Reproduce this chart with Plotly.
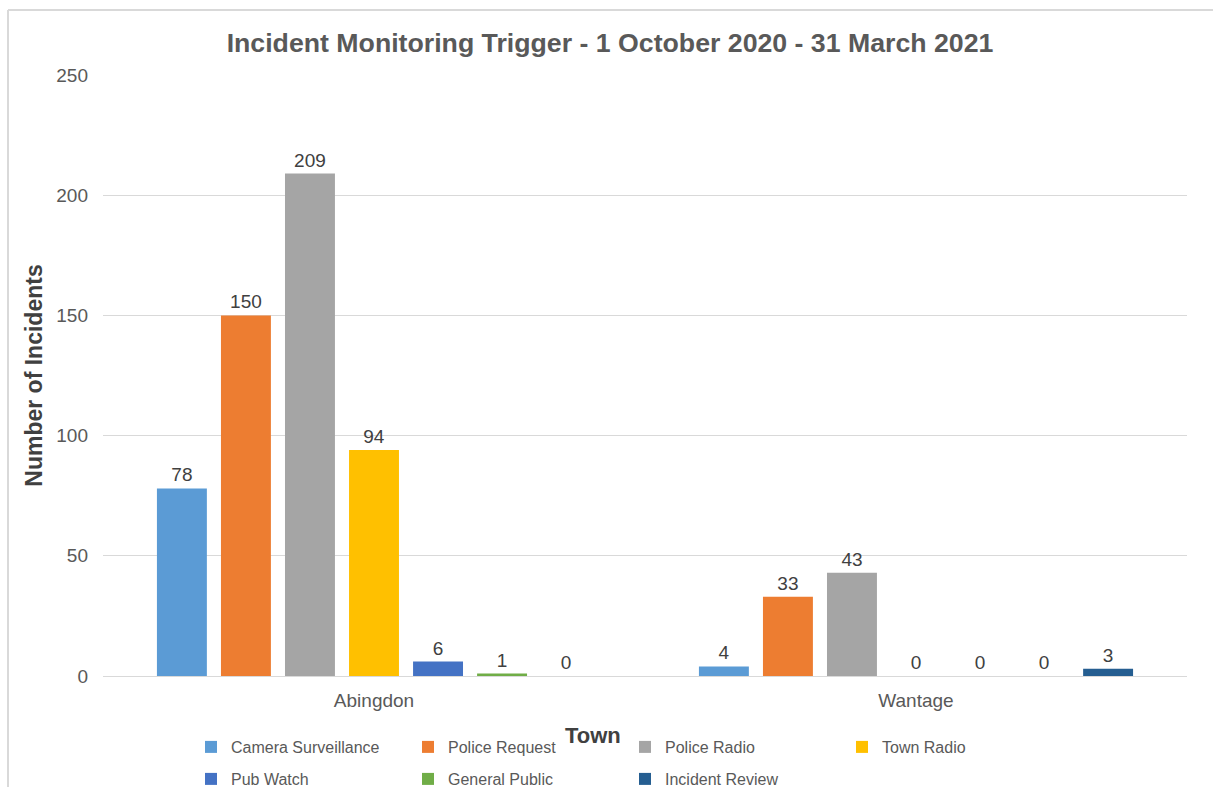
import plotly.graph_objects as go

# Incident counts per trigger source, by town
towns = ["Abingdon", "Wantage"]
sources = ["Camera Surveillance", "Police Request", "Police Radio", "Town Radio",
           "Pub Watch", "General Public", "Incident Review"]
camera_surveillance = [78, 4]
police_request = [150, 33]
police_radio = [209, 43]
town_radio = [94, 0]
pub_watch = [6, 0]
general_public = [1, 0]
incident_review = [0, 3]

series = [camera_surveillance, police_request, police_radio, town_radio,
          pub_watch, general_public, incident_review]
colors = ["#5B9BD5", "#ED7D31", "#A5A5A5", "#FFC000", "#4472C4", "#70AD47", "#255E91"]
legend_rows = ["legend", "legend", "legend", "legend", "legend2", "legend2", "legend2"]

W, H = 1213, 787
ML, MR = 103, 26
PLOT_TOP, PLOT_BOTTOM = 75, 676
pw = W - ML - MR


def fx(p):
    """Pixel column -> paper x fraction."""
    return (p - ML) / pw


def fy(p):
    """Pixel row -> paper y fraction (margins are zero vertically)."""
    return (H - p) / H


fig = go.Figure()
for name, vals, col, lg in zip(sources, series, colors, legend_rows):
    fig.add_trace(go.Bar(
        x=towns, y=vals, name=name, legend=lg,
        marker=dict(color=col, line=dict(width=0)),
        text=[str(v) for v in vals], textposition="outside",
        textfont=dict(family="Arial", size=19, color="#404040"),
        cliponaxis=False,
    ))

legend_common = dict(
    orientation="h", xanchor="left", yanchor="middle",
    entrywidth=172, entrywidthmode="pixels", traceorder="normal",
    itemwidth=30, font=dict(family="Arial", size=16, color="#595959"),
    bgcolor="rgba(0,0,0,0)",
)

fig.update_layout(
    width=W, height=H,
    margin=dict(l=ML, r=MR, t=0, b=0, autoexpand=False),
    paper_bgcolor="white", plot_bgcolor="white",
    barmode="group", bargap=0.173, bargroupgap=0.22,
    font=dict(family="Arial", color="#595959"),
    title=dict(text="<b>Incident Monitoring Trigger - 1 October 2020 - 31 March 2021</b>",
               x=610 / W, xref="container", xanchor="center", y=1 - 43 / H, yanchor="middle",
               font=dict(family="Arial", size=26.7, color="#595959")),
    yaxis=dict(domain=[fy(PLOT_BOTTOM), fy(PLOT_TOP)],
               range=[0, 250], dtick=50, showgrid=True, gridcolor="#D9D9D9", gridwidth=1,
               zeroline=False, showline=False, ticks="",
               tickfont=dict(family="Arial", size=19, color="#595959"),
               ticklabelstandoff=14,
               title=dict(text="<b>Number of Incidents</b>", standoff=7,
                          font=dict(family="Arial", size=23, color="#404040"))),
    xaxis=dict(showline=True, linecolor="#D9D9D9", linewidth=1, ticks="",
               tickfont=dict(family="Arial", size=19, color="#595959"),
               ticklabelstandoff=7),
    legend=dict(x=fx(191), y=fy(747), **legend_common),
    legend2=dict(x=fx(191), y=fy(779), **legend_common),
    # Category axis title, set just left of the legend's third column
    annotations=[dict(text="<b>Town</b>", xref="paper", yref="paper",
                      x=fx(593), y=fy(735), xanchor="center", yanchor="middle",
                      showarrow=False,
                      font=dict(family="Arial", size=22, color="#404040"))],
    shapes=[
        dict(type="line", xref="paper", yref="paper", x0=fx(8), x1=fx(1213),
             y0=fy(10), y1=fy(10), line=dict(color="#D9D9D9", width=2)),
        dict(type="line", xref="paper", yref="paper", x0=fx(8), x1=fx(8),
             y0=fy(10), y1=fy(787), line=dict(color="#D9D9D9", width=2)),
    ],
)

fig.write_html("out.html")
